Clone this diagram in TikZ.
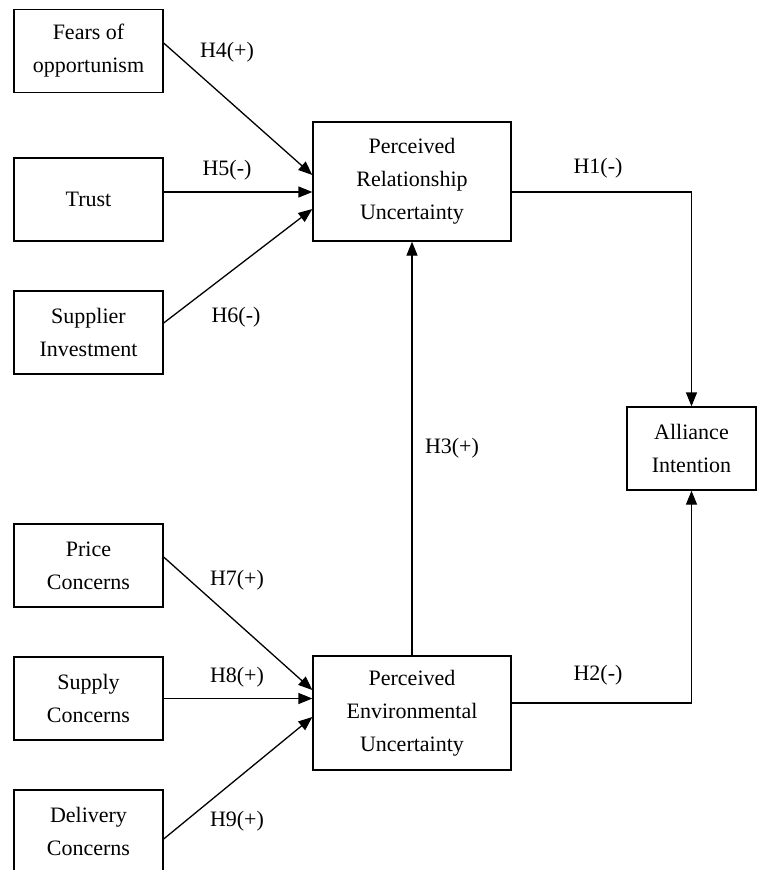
\documentclass[tikz,border=0pt]{standalone}
\usepackage{fontspec}
\setmainfont{Liberation Serif}
\usetikzlibrary{arrows.meta}
\begin{document}
\begin{tikzpicture}[x=1pt,y=-1pt,
  box/.style={draw, line width=1.3pt, rectangle, align=center, inner sep=2pt,
    font=\fontsize{22}{33}\selectfont},
  small/.style={box, minimum width=149pt, minimum height=83pt},
  big/.style={box, minimum width=198pt},
  lbl/.style={font=\fontsize{22}{25}\selectfont},
  conn/.style={line width=1.3pt, -{Triangle[length=14pt,width=11pt]}}]
\clip (0,0) rectangle (764,870);
\useasboundingbox (0,0) rectangle (764,870);
\node[small] (fear) at (88.5,51) {Fears of\\opportunism};
\node[small] (trust) at (88.5,199.5) {Trust};
\node[small] (supinv) at (88.5,332.5) {Supplier\\Investment};
\node[small] (price) at (88.5,565.5) {Price\\Concerns};
\node[small] (supply) at (88.5,698.5) {Supply\\Concerns};
\node[small] (deliv) at (88.5,831.5) {Delivery\\Concerns};
\node[big, minimum height=119pt] (pru) at (412,181.5) {Perceived\\Relationship\\Uncertainty};
\node[big, minimum height=114pt] (peu) at (412,713) {Perceived\\Environmental\\Uncertainty};
\node[box, minimum width=129pt, minimum height=83pt] (ai) at (691.5,448.5) {Alliance\\Intention};
% connectors
\draw[conn] ([yshift=8pt]fear.east) -- ([yshift=6.5pt]pru.west);
\draw[conn] ([yshift=7.5pt]trust.east) coordinate (ts) -- (ts -| pru.west);
\draw[conn] ([yshift=9.5pt]supinv.east) -- ([yshift=-27.5pt]pru.west);
\draw[conn] ([yshift=8.5pt]price.east) -- ([yshift=23pt]peu.west);
\draw[conn] (supply.east) coordinate (ss) -- (ss -| peu.west);
\draw[conn] ([yshift=-7.5pt]deliv.east) -- ([yshift=-4pt]peu.west);
\draw[conn] (peu.north) -- (pru.south);
\draw[conn] ([yshift=-10.5pt]pru.east) -| (ai.north);
\draw[conn] ([yshift=10pt]peu.east) -| (ai.south);
% labels
\node[lbl] (l4) at (227,52) {H4(+)};
\node[lbl] (l5) at (227,170) {H5(-)};
\node[lbl] (l6) at (236,317) {H6(-)};
\node[lbl] (l1) at (598,168) {H1(-)};
\node[lbl] (l3) at (452,448) {H3(+)};
\node[lbl] (l7) at (237,580) {H7(+)};
\node[lbl] (l8) at (237,677) {H8(+)};
\node[lbl] (l9) at (237,821) {H9(+)};
\node[lbl] (l2) at (598,675) {H2(-)};
\end{tikzpicture}
\end{document}
